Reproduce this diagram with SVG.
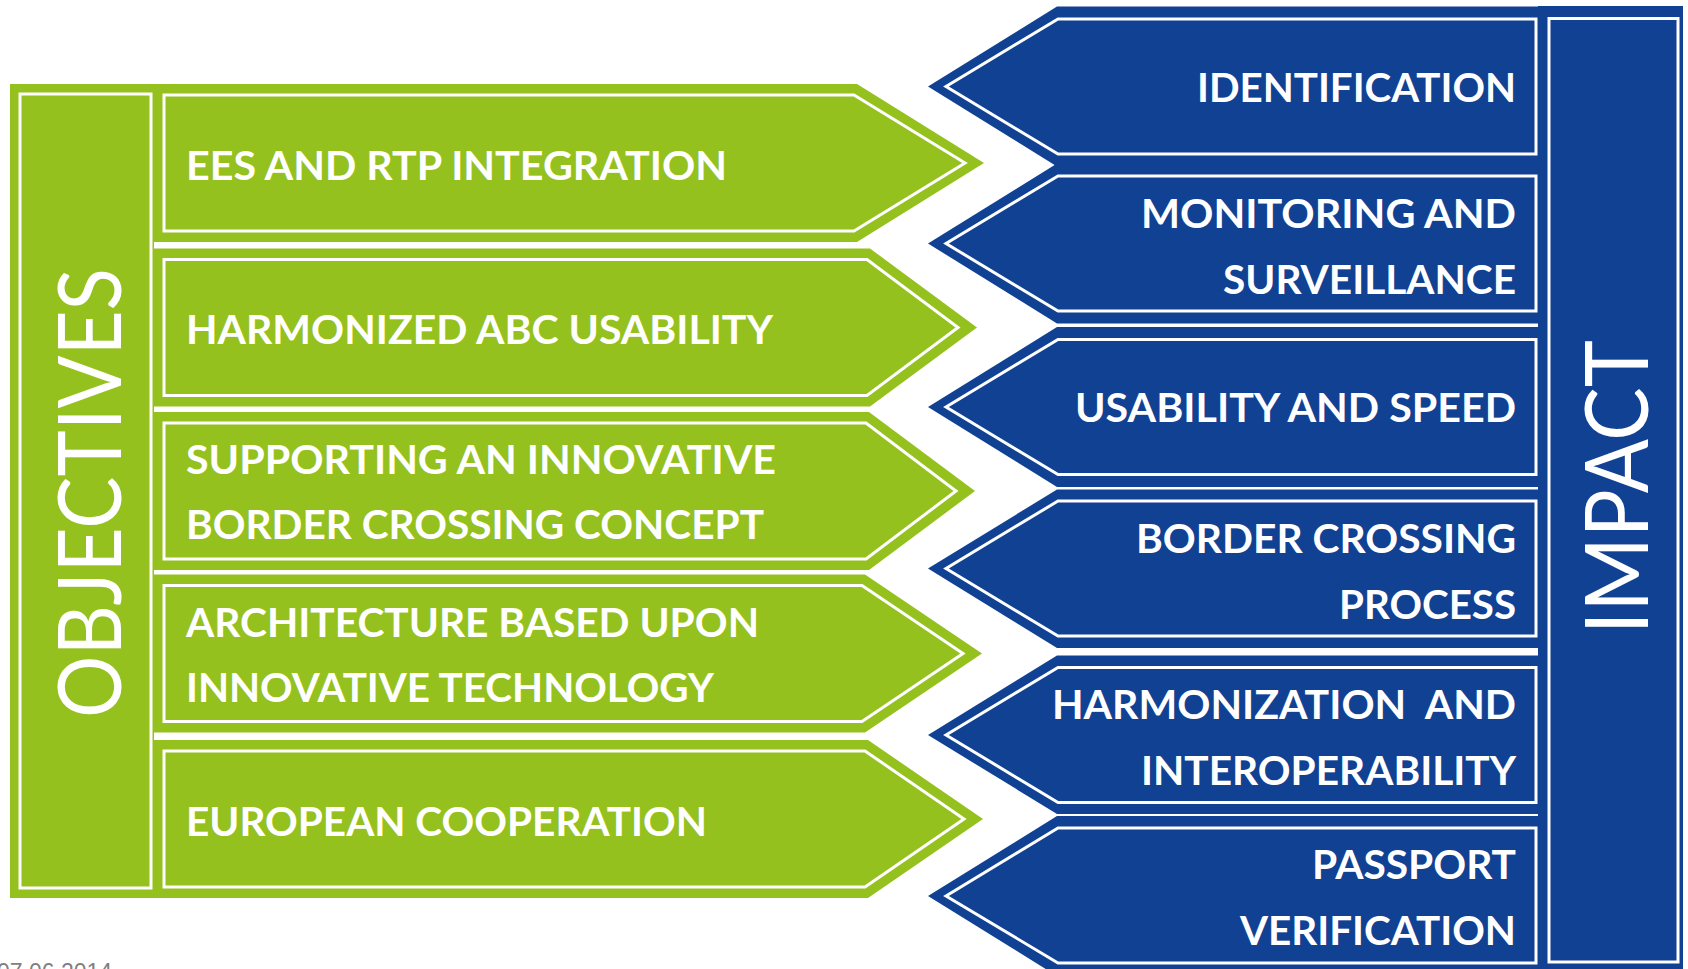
<svg xmlns="http://www.w3.org/2000/svg" width="1688" height="969" viewBox="0 0 1688 969">
<style>
.g{fill:#95C11F}
.b{fill:#114193}
.ln{fill:none;stroke:#FFFFFF;stroke-width:3}
.t{font-family:Lato,"Liberation Sans",sans-serif;font-weight:700;font-size:41px;fill:#FFFFFF}
.tr{text-anchor:end}
.big{font-family:Lato,"Liberation Sans",sans-serif;font-weight:400;font-size:88px;fill:#FFFFFF;text-anchor:middle}
.date{font-family:"Liberation Sans",Arial,sans-serif;font-size:23px;fill:#7F7F7F}
</style>
<rect width="1688" height="969" fill="#FFFFFF"/>

<g id="objectives">
<rect class="g" x="10" y="84" width="144" height="814"/>
<rect class="ln" x="20" y="94" width="131" height="794"/>
<text class="big" transform="translate(121,493) rotate(-90)" textLength="450" lengthAdjust="spacingAndGlyphs">OBJECTIVES</text>
</g>

<g id="obj1">
<polygon class="g" points="154,84 857,84 984,163 857,242 154,242"/>
<polygon class="ln" points="164,95 854,95 965,163 854,231 164,231"/>
<text class="t" x="186" y="180" textLength="541" lengthAdjust="spacingAndGlyphs">EES AND RTP INTEGRATION</text>
</g>
<g id="obj2">
<polygon class="g" points="154,248.5 870,248.5 977,327.5 870,406.5 154,406.5"/>
<polygon class="ln" points="164,259.5 867,259.5 958,327.5 867,395.5 164,395.5"/>
<text class="t" x="186" y="344" textLength="587" lengthAdjust="spacingAndGlyphs">HARMONIZED ABC USABILITY</text>
</g>
<g id="obj3">
<polygon class="g" points="154,412 869,412 975,491 869,570 154,570"/>
<polygon class="ln" points="164,423 866,423 956,491 866,559 164,559"/>
<text class="t" x="186" y="474" textLength="590" lengthAdjust="spacingAndGlyphs">SUPPORTING AN INNOVATIVE</text>
<text class="t" x="186" y="539" textLength="578" lengthAdjust="spacingAndGlyphs">BORDER CROSSING CONCEPT</text>
</g>
<g id="obj4">
<polygon class="g" points="154,574.5 865,574.5 982,653.5 865,732.5 154,732.5"/>
<polygon class="ln" points="164,585.5 862,585.5 963,653.5 862,721.5 164,721.5"/>
<text class="t" x="186" y="637" textLength="573" lengthAdjust="spacingAndGlyphs">ARCHITECTURE BASED UPON</text>
<text class="t" x="186" y="702" textLength="528" lengthAdjust="spacingAndGlyphs">INNOVATIVE TECHNOLOGY</text>
</g>
<g id="obj5">
<polygon class="g" points="154,740 868,740 983,819 868,898 154,898"/>
<polygon class="ln" points="164,751 865,751 964,819 865,887 164,887"/>
<text class="t" x="186" y="836" textLength="521" lengthAdjust="spacingAndGlyphs">EUROPEAN COOPERATION</text>
</g>

<g id="impact">
<rect class="b" x="1538" y="6" width="145" height="970"/>
<rect class="ln" x="1549" y="18.5" width="129" height="943.5"/>
<text class="big" transform="translate(1648,487) rotate(-90)" textLength="294" lengthAdjust="spacingAndGlyphs">IMPACT</text>
</g>

<g id="imp1">
<polygon class="b" points="1057,6.5 1539,6.5 1539,166.5 1057,166.5 928,86.5"/>
<polygon class="ln" points="1058,19 1536,19 1536,154 1058,154 946,86.5"/>
<text class="t tr" x="1516" y="101.5" textLength="319" lengthAdjust="spacingAndGlyphs">IDENTIFICATION</text>
</g>
<g id="imp2">
<polygon class="b" points="1057,163.5 1539,163.5 1539,323.5 1057,323.5 928,243.5"/>
<polygon class="ln" points="1058,176 1536,176 1536,311 1058,311 946,243.5"/>
<text class="t tr" x="1516" y="227.5" textLength="375" lengthAdjust="spacingAndGlyphs">MONITORING AND</text>
<text class="t tr" x="1516" y="293.5" textLength="293" lengthAdjust="spacingAndGlyphs">SURVEILLANCE</text>
</g>
<g id="imp3">
<polygon class="b" points="1057,327 1539,327 1539,487 1057,487 928,407"/>
<polygon class="ln" points="1058,339.5 1536,339.5 1536,474.5 1058,474.5 946,407"/>
<text class="t tr" x="1516" y="422" textLength="441" lengthAdjust="spacingAndGlyphs">USABILITY AND SPEED</text>
</g>
<g id="imp4">
<polygon class="b" points="1057,489.5 1539,489.5 1539,648 1057,648 928,568.5"/>
<polygon class="ln" points="1058,501 1536,501 1536,636 1058,636 946,568.5"/>
<text class="t tr" x="1516" y="552.5" textLength="380" lengthAdjust="spacingAndGlyphs">BORDER CROSSING</text>
<text class="t tr" x="1516" y="618.5" textLength="177" lengthAdjust="spacingAndGlyphs">PROCESS</text>
</g>
<g id="imp5">
<polygon class="b" points="1057,655.5 1539,655.5 1539,814 1057,814 928,735"/>
<polygon class="ln" points="1058,667.5 1536,667.5 1536,802.5 1058,802.5 946,735"/>
<text class="t tr" x="1516" y="719" textLength="464" lengthAdjust="spacingAndGlyphs" xml:space="preserve">HARMONIZATION  AND</text>
<text class="t tr" x="1516" y="785" textLength="375" lengthAdjust="spacingAndGlyphs">INTEROPERABILITY</text>
</g>
<g id="imp6">
<polygon class="b" points="1057,816 1539,816 1539,976 1057,976 928,896"/>
<polygon class="ln" points="1058,828 1536,828 1536,963 1058,963 946,896"/>
<text class="t tr" x="1516" y="879" textLength="204" lengthAdjust="spacingAndGlyphs">PASSPORT</text>
<text class="t tr" x="1516" y="945" textLength="276" lengthAdjust="spacingAndGlyphs">VERIFICATION</text>
</g>

<g id="connectors"></g>

<text class="date" x="-3" y="980">07.06.2014</text>
</svg>
